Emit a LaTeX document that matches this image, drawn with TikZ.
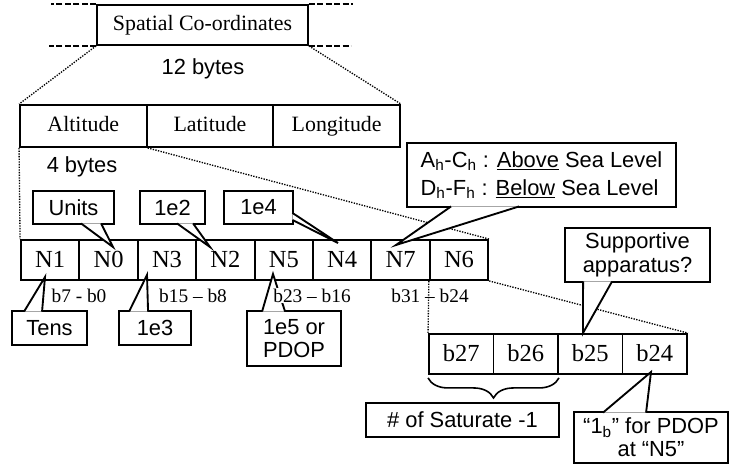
\documentclass[tikz,border=0pt]{standalone}
\usepackage{fontspec}
\setmainfont{Liberation Serif}
\setsansfont{Liberation Sans}
\usetikzlibrary{calc,decorations.pathreplacing}
\definecolor{scink}{HTML}{000000}
\tikzset{
  scline/.style={draw=scink, line width=1.4pt},
  scbox/.style={scline, fill=white, inner sep=0pt, text height=11.5pt, text depth=3.5pt,
                font=\rmfamily\fontsize{16.4}{17.5}\selectfont},
  scfield/.style={scbox, minimum width=95pt, minimum height=31.5pt},
  scnib/.style={scbox, minimum width=43.8pt, minimum height=30pt, text height=12.5pt,
                text depth=1pt, font=\rmfamily\fontsize{18.4}{19}\selectfont},
  scbit/.style={scnib, minimum width=48.4pt},
  sccall/.style={scline, fill=white, inner sep=0pt, align=center,
                 font=\sffamily\fontsize{16.4}{17.5}\selectfont},
  sclabel/.style={inner sep=0pt, anchor=base, font=\sffamily\fontsize{16.4}{17.5}\selectfont},
  scrange/.style={inner sep=0.6pt, anchor=base, font=\rmfamily\fontsize{14.5}{16}\selectfont},
  scdots/.style={draw=scink, line width=1pt, dash pattern=on 1pt off 1pt},
  scdash/.style={draw=scink, line width=1pt, dash pattern=on 4.5pt off 1.8pt},
}
% callout tail: two base points and the tip
\newcommand\sctail[3]{%
  \fill[white] #1 -- #3 -- #2 -- cycle;
  \draw[scline, line join=miter] #1 -- #3 -- #2;}

\begin{document}
\begin{tikzpicture}[x=0.75pt, y=-0.75pt]
  \useasboundingbox (0,0) rectangle (738,465);

  % top record
  \node[scbox, minimum width=158.25pt, minimum height=30pt] (sc) at (202.5,25) {Spatial Co-ordinates};
  \draw[scdash] (sc.north west) -- ++(-45,0);
  \draw[scdash] (sc.north east) -- ++(44,0);
  \draw[scdash] (sc.south west) -- ++(-47,0);
  \draw[scdash] (sc.south east) -- ++(42,0);
  \node[sclabel] (twelve) at (203,74) {12 bytes};

  \node[scfield] (alt) at (83.33,126) {Altitude};
  \node[scfield] (lat) at (210,126) {Latitude};
  \node[scfield] (lon) at (336.67,126) {Longitude};
  \node[sclabel] (four) at (82,172) {4 bytes};

  % nibbles and bits
  \foreach \lab [count=\i from 0] in {N1,N0,N3,N2,N5,N4,N7,N6}
    \node[scnib] (\lab) at ({50.2+58.4*\i},260) {\lab};
  \foreach \lab [count=\i from 0] in {27,26,25,24}
    \node[scbit] (b\lab) at ({461.25+64.5*\i},354) {b\lab};

  \draw[scdots] (sc.south west) -- (alt.north west);
  \draw[scdots] (sc.south east) -- (lon.north east);
  \draw[scdots] (alt.south west) -- (N1.north west);
  \draw[scdots] (alt.south east) -- (N6.north east);
  \draw[scdots] (N6.south west) -- (b27.north west);
  \draw[scdots] (N6.south east) -- (b24.north east);

  % callouts above
  \node[sccall, minimum width=60.75pt, minimum height=24.75pt] (units) at (73.5,207.5) {Units};
  \coordinate (tunits) at (113,247);
  \sctail{($(units.south west)+(49,-1.5)$)}{($(units.south west)+(69,-1.5)$)}{(tunits)}

  \node[sccall, minimum width=48.75pt, minimum height=24.75pt] (etwo) at (172.5,207.5) {1e2};
  \coordinate (tetwo) at (210,247);
  \sctail{($(etwo.south west)+(38,-1.5)$)}{($(etwo.south west)+(54,-1.5)$)}{(tetwo)}

  \node[sccall, minimum width=51.75pt, minimum height=24.75pt] (efour) at (258.5,207.5) {1e4};
  \coordinate (tefour) at (338,243);
  \sctail{($(efour.south east)+(-1.5,-12)$)}{($(efour.south east)+(-1.5,-5)$)}{(tefour)}

  \node[sccall, minimum width=201.75pt, minimum height=48pt, align=left,
        font=\sffamily\fontsize{16.4}{21}\selectfont] (sea) at (541.5,175)
        {A\textsubscript{h}-C\textsubscript{h} : \underline{Above} Sea Level\\
         D\textsubscript{h}-F\textsubscript{h} : \underline{Below} Sea Level};
  \coordinate (tsea) at (396,245);
  \sctail{($(sea.south west)+(45,-1.5)$)}{($(sea.south west)+(113,-1.5)$)}{(tsea)}

  \node[sccall, minimum width=108.75pt, minimum height=40.5pt] (supp) at (637.5,255) {Supportive\\apparatus?};
  \coordinate (tsupp) at (583,333);
  \sctail{($(supp.south west)+(19,-1.5)$)}{($(supp.south west)+(48,-1.5)$)}{(tsupp)}

  % callouts below
  \node[sccall, minimum width=56.25pt, minimum height=25.5pt] (tens) at (49.5,328) {Tens};
  \coordinate (ttens) at (45,277);
  \sctail{($(tens.north west)+(13,1.5)$)}{($(tens.north west)+(31,1.5)$)}{(ttens)}

  \node[sccall, minimum width=54pt, minimum height=25.5pt] (ethree) at (155,328) {1e3};
  \coordinate (tethree) at (147,275);
  \sctail{($(ethree.north west)+(11,1.5)$)}{($(ethree.north west)+(30,1.5)$)}{(tethree)}

  \node[sccall, minimum width=70.5pt, minimum height=41.25pt] (efive) at (294,338.5) {1e5 or\\PDOP};
  \coordinate (tefive) at (273,274);
  \sctail{($(efive.north west)+(16,1.5)$)}{($(efive.north west)+(39,1.5)$)}{(tefive)}

  \node[sccall, minimum width=115.5pt, minimum height=38.25pt] (pdop) at (651,437.5)
        {“1\textsubscript{b}” for PDOP\\at “N5”};
  \coordinate (tpdop) at (651,372);
  \sctail{($(pdop.north west)+(30,1.5)$)}{($(pdop.north west)+(73,1.5)$)}{(tpdop)}

  % bit ranges
  \node[scrange, fill=white] (rzero) at (79,302) {b7 - b0};
  \node[scrange, fill=white] (rone) at (193,302) {b15 – b8};
  \node[scrange, fill=white] (rtwo) at (312,302) {b23 – b16};
  \node[scrange] (rthree) at (430,302) {b31 – b24};

  \draw[scline, line width=1.2pt, decorate, decoration={brace, amplitude=15pt}]
    ($(b26.south east)+(0,3)$) -- ($(b27.south west)+(0,3)$);
  \node[sccall, minimum width=144.75pt, minimum height=25.5pt] (sat) at (462.5,420) {\# of Saturate -1};
\end{tikzpicture}
\end{document}
